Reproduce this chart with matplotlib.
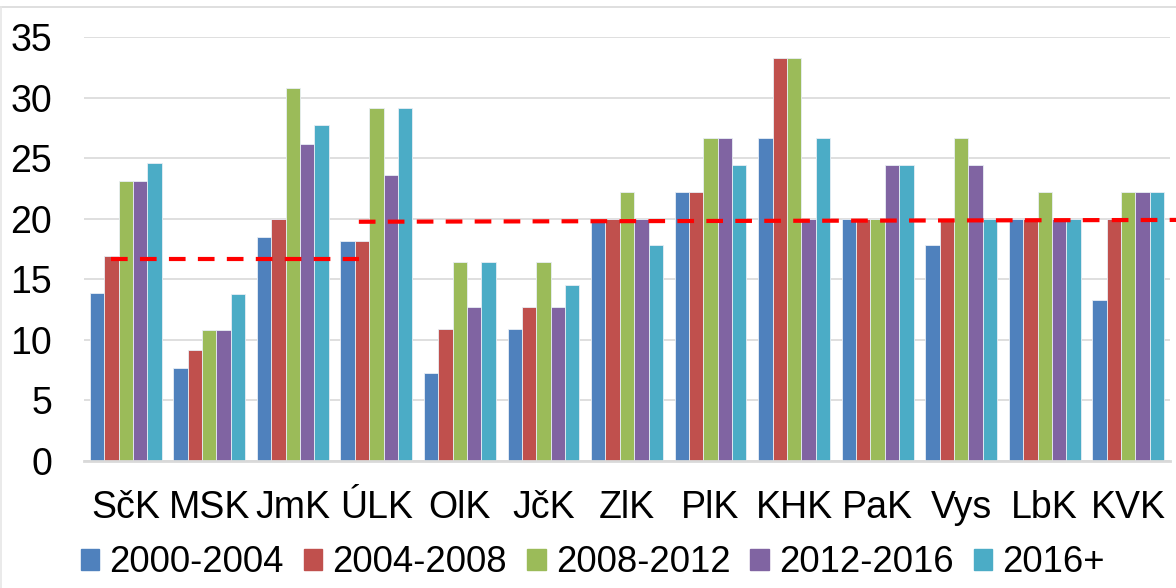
import numpy as np
import matplotlib
matplotlib.use("Agg")
import matplotlib.pyplot as plt
from matplotlib.patches import Patch

plt.rcParams['font.family'] = ['Liberation Sans', 'DejaVu Sans']

# kraje
regions = ["SčK", "MSK", "JmK", "ÚLK", "OlK", "JčK", "ZlK", "PlK", "KHK", "PaK", "Vys", "LbK", "KVK"]
periods = ["2000-2004", "2004-2008", "2008-2012", "2012-2016", "2016+"]

p2000 = [13.9, 7.7, 18.5, 18.2, 7.3, 10.9, 20.0, 22.2, 26.7, 20.0, 17.8, 20.0, 13.3]
p2004 = [16.9, 9.2, 20.0, 18.2, 10.9, 12.7, 20.0, 22.2, 33.3, 20.0, 20.0, 20.0, 20.0]
p2008 = [23.1, 10.8, 30.8, 29.1, 16.4, 16.4, 22.2, 26.7, 33.3, 20.0, 26.7, 22.2, 22.2]
p2012 = [23.1, 10.8, 26.2, 23.6, 12.7, 12.7, 20.0, 26.7, 20.0, 24.4, 24.4, 20.0, 22.2]
p2016 = [24.6, 13.8, 27.7, 29.1, 16.4, 14.5, 17.8, 24.4, 26.7, 24.4, 20.0, 20.0, 22.2]

# prumery (cervena carkovana cara)
avg1_x = [-0.18, 2.79]
avg1_y = [16.7, 16.7]
avg2_x = [2.79, 12.6]
avg2_y = [19.75, 19.9]

colors = ["#4F81BD", "#C0504D", "#9BBB59", "#8064A2", "#4BACC6"]
series = [p2000, p2004, p2008, p2012, p2016]

fig = plt.figure(figsize=(11.76, 5.88), dpi=100)
ax = fig.add_axes([84 / 1176, (588 - 461) / 588, (1170 - 84) / 1176, (461 - 37) / 588])

x = np.arange(len(regions))
w = 0.172
for i, (vals, c) in enumerate(zip(series, colors)):
    ax.bar(x + (i - 2) * w, vals, w, color=c, edgecolor="#e8eef5", linewidth=0.6,
           label=periods[i], zorder=2)

ax.plot(avg1_x, avg1_y, color="#FF0000", lw=3, dashes=(4, 2.95), zorder=3, clip_on=False)
ax.plot(avg2_x, avg2_y, color="#FF0000", lw=3, dashes=(4, 2.95), zorder=3, clip_on=False)

ax.set_xlim(-0.5, 12.5)
ax.set_ylim(0, 35)
ax.set_yticks(np.arange(0, 36, 5))
ax.set_xticks(x)
ax.set_xticklabels(regions)
ax.tick_params(axis="both", length=0, labelsize=27)
ax.tick_params(axis="y", pad=23)
ax.tick_params(axis="x", pad=21)
ax.grid(axis="y", color="#d9d9d9", lw=1.2, zorder=0)
for s in ["top", "right", "left"]:
    ax.spines[s].set_visible(False)
ax.spines["bottom"].set_color("#d9d9d9")
ax.spines["bottom"].set_linewidth(2)

handles = [Patch(color=c) for c in colors]
fig.legend(handles, periods, loc="center left", bbox_to_anchor=(81 / 1176, 1 - 563 / 588),
           ncol=5, frameon=False, fontsize=26.3, handlelength=0.5, handleheight=0.5,
           handletextpad=0.28, columnspacing=0.55, borderaxespad=0, borderpad=0)

# ramecek grafu
fig.add_artist(plt.Line2D([0, 1], [1 - 7 / 588, 1 - 7 / 588], color="#d9d9d9", lw=1.2))
fig.add_artist(plt.Line2D([1 / 1176, 1 / 1176], [0, 1 - 7 / 588], color="#e6e6e6", lw=1.2))

fig.savefig("out.png", dpi=100)
